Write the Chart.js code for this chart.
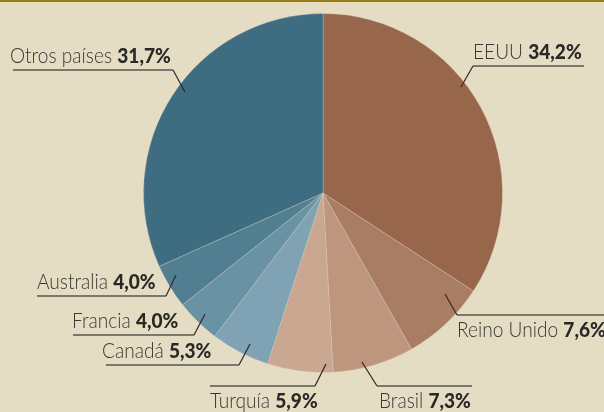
<!DOCTYPE html>
<html><head><meta charset="utf-8">
<script src="https://cdn.jsdelivr.net/npm/chart.js@4"></script>
<style>html,body{margin:0;padding:0;background:#e4dcc3;}canvas{display:block;}</style>
</head><body>
<canvas id="c" width="604" height="412"></canvas>
<script>
const categories = ["EEUU","Reino Unido","Brasil","Turquía","Canadá","Francia","Australia","Otros países"];
const shares = [34.2, 7.6, 7.3, 5.9, 5.3, 4.0, 4.0, 31.7];
const shareLabels = ["34,2%","7,6%","7,3%","5,9%","5,3%","4,0%","4,0%","31,7%"];
const colors = ["#98674b","#a97d63","#be967e","#c9a791","#7fa2b4","#6a92a5","#527e92","#3e6c81"];

// annotation layout: text anchor x, underline y, underline x range, leader end, text above/below
const labelLayout = [
  {tx:473, ul:[473,584,66], lead:[473,66,461,87], below:false},
  {tx:457, ul:[457,604,315], lead:[457,315,445,294], below:true},
  {tx:379, ul:[377,472,386], lead:[377,386,362,362], below:true},
  {tx:210, ul:[210,315,386], lead:[315,386,326,364], below:true},
  {tx:102, ul:[106,239,365], lead:[239,365,250,344], below:false},
  {tx:72,  ul:[73,194,335], lead:[194,335,205,314], below:false},
  {tx:37,  ul:[37,166,296], lead:[166,296,176,275], below:false},
  {tx:10,  ul:[13,173,70], lead:[173,70,185,92], below:false}
];

const bgPlugin = {
  id:'bg',
  beforeDraw(chart){
    const ctx = chart.ctx;
    ctx.save();
    ctx.fillStyle = '#e4dcc3';
    ctx.fillRect(0,0,chart.width,chart.height);
    ctx.fillStyle = '#9a7a12';
    ctx.fillRect(0,0,chart.width,2);
    ctx.restore();
  }
};

const labelPlugin = {
  id:'labels',
  afterDraw(chart){
    const ctx = chart.ctx;
    ctx.save();
    const nameFont = '300 21px Lato';
    const pctFont = '900 21px Lato';
    const sx = 0.91;
    categories.forEach((name,i)=>{
      const L = labelLayout[i];
      // underline
      ctx.strokeStyle = '#5a5650';
      ctx.lineWidth = 1.5;
      ctx.beginPath();
      ctx.moveTo(L.ul[0], L.ul[2]); ctx.lineTo(L.ul[1], L.ul[2]);
      ctx.stroke();
      // leader
      ctx.strokeStyle = '#2b2b2b';
      ctx.lineWidth = 1.2;
      ctx.beginPath();
      ctx.moveTo(L.lead[0], L.lead[1]); ctx.lineTo(L.lead[2], L.lead[3]);
      ctx.stroke();
      // text
      const by = L.below ? L.ul[2] + 22 : L.ul[2] - 7;
      ctx.save();
      ctx.translate(L.tx, by);
      ctx.scale(sx, 1);
      ctx.textBaseline = 'alphabetic';
      ctx.textAlign = 'left';
      ctx.font = nameFont;
      ctx.fillStyle = '#3a3835';
      const t1 = name + ' ';
      const w1 = ctx.measureText(t1).width;
      ctx.fillText(t1, 0, 0);
      ctx.font = pctFont;
      ctx.fillStyle = '#2a2826';
      ctx.fillText(shareLabels[i], w1, 0);
      ctx.restore();
    });
    ctx.restore();
  }
};

new Chart(document.getElementById('c'), {
  type:'pie',
  data:{
    labels:categories,
    datasets:[{
      data:shares,
      backgroundColor:colors,
      borderColor:'rgba(225,215,195,0.3)',
      borderWidth:1
    }]
  },
  options:{
    responsive:false,
    animation:false,
    layout:{padding:{left:143,right:101,top:13,bottom:39}},
    plugins:{legend:{display:false},tooltip:{enabled:false}}
  },
  plugins:[bgPlugin,labelPlugin]
});
</script>
</body></html>
